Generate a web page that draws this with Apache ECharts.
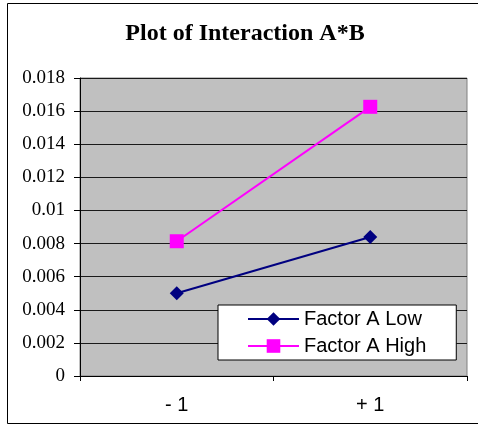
<!DOCTYPE html>
<html><head><meta charset="utf-8">
<script src="https://cdn.jsdelivr.net/npm/echarts@6/dist/echarts.min.js"></script>
<style>html,body{margin:0;padding:0;background:#fff}#c{width:478px;height:425px}</style>
</head><body><div id="c"></div>
<script>
const categories = ['- 1', '+ 1'];
const lowValues = [0.005, 0.0084];
const highValues = [0.00814, 0.01626];
const seriesNames = ['Factor A Low', 'Factor A High'];
const yTicks = { min: 0, max: 0.018, interval: 0.002 };

const chart = echarts.init(document.getElementById('c'), null, { renderer: 'canvas' });
chart.setOption({
  animation: false,
  backgroundColor: '#fff',
  graphic: [
    { type: 'rect', shape: { x: 7.5, y: 3.5, width: 480, height: 420 }, style: { fill: 'none', stroke: '#000', lineWidth: 1 }, z: 0 },
    { type: 'text', x: 245, y: 34, style: { text: 'Plot of Interaction A*B', font: 'bold 24px "Liberation Serif", "Times New Roman", serif', fill: '#000', textAlign: 'center', textVerticalAlign: 'middle' }, z: 10 }
  ],
  grid: { left: 80, top: 78, right: 11, bottom: 49, show: true, backgroundColor: '#c0c0c0', borderColor: '#808080', borderWidth: 1 },
  legend: {
    orient: 'vertical', left: 218, top: 305,
    backgroundColor: '#fff', borderColor: '#000', borderWidth: 1,
    padding: [4, 30, 4, 29], itemGap: 7, itemWidth: 51, itemHeight: 17,
    textStyle: { fontFamily: '"Liberation Sans", Arial, sans-serif', fontSize: 20, color: '#000' },
    data: seriesNames
  },
  xAxis: {
    type: 'category', data: categories, boundaryGap: true,
    axisLine: { lineStyle: { color: '#000', width: 1 } },
    axisTick: { show: true, length: 5, lineStyle: { color: '#000' } },
    axisLabel: { margin: 19, fontFamily: '"Liberation Sans", Arial, sans-serif', fontSize: 20, color: '#000' },
    splitLine: { show: false }
  },
  yAxis: {
    type: 'value', min: yTicks.min, max: yTicks.max, interval: yTicks.interval,
    axisLine: { show: true, lineStyle: { color: '#000', width: 1 } },
    axisTick: { show: true, length: 6, lineStyle: { color: '#000' } },
    axisLabel: { margin: 15, fontFamily: '"Liberation Serif", "Times New Roman", serif', fontSize: 19, color: '#000',
      formatter: v => (v === 0 ? '0' : String(parseFloat(v.toFixed(3)))) },
    splitLine: { show: true, lineStyle: { color: '#1a1a1a', width: 1 } }
  },
  series: [
    { name: seriesNames[0], type: 'line', data: lowValues, symbol: 'diamond', symbolSize: 14,
      lineStyle: { color: '#000080', width: 2 }, itemStyle: { color: '#000080' } },
    { name: seriesNames[1], type: 'line', data: highValues, symbol: 'rect', symbolSize: 14,
      lineStyle: { color: '#ff00ff', width: 2 }, itemStyle: { color: '#ff00ff' } }
  ]
});
</script></body></html>
